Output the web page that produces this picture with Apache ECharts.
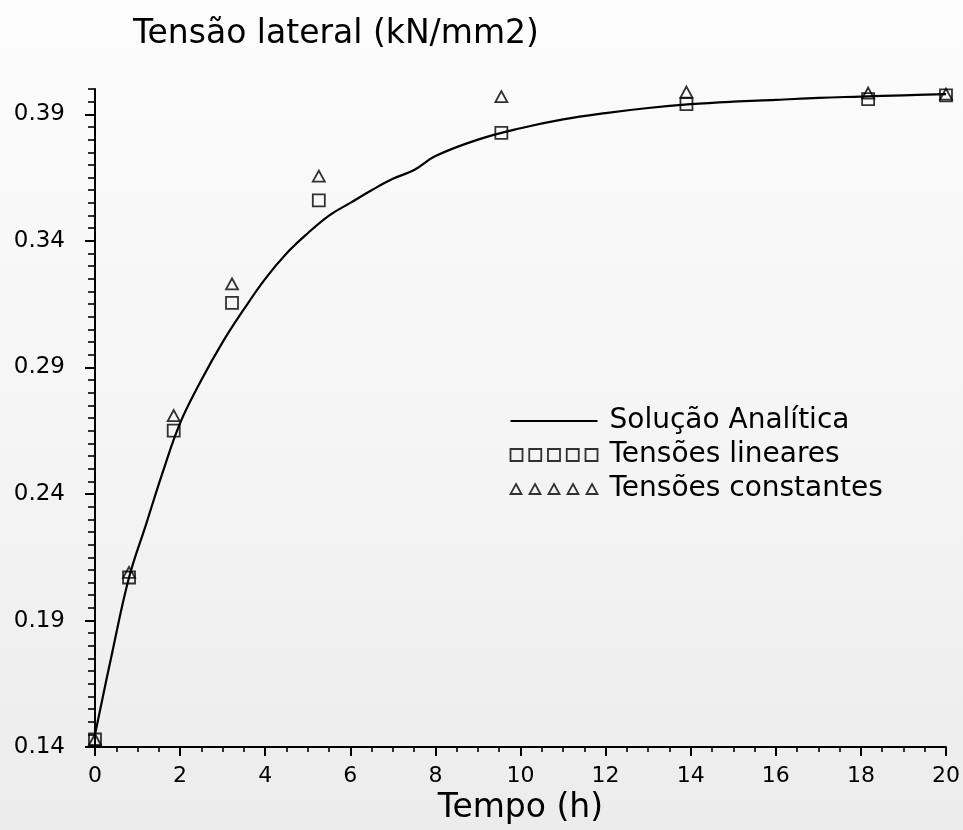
<!DOCTYPE html>
<html>
<head>
<meta charset="utf-8">
<title>Tensão lateral</title>
<script src="https://cdn.jsdelivr.net/npm/echarts@6/dist/echarts.min.js"></script>
<style>
  html, body { margin: 0; padding: 0; }
  body { width: 963px; height: 830px; background: linear-gradient(#fcfcfc 0%, #f6f6f6 45%, #ececec 100%); }
  #chart { width: 963px; height: 830px; }
</style>
</head>
<body>
<div id="chart"></div>
<script>
// Time axis (h) and lateral stress (kN/mm2)
const curveTime = [0, 0.4, 0.8, 1.2, 1.6, 2, 2.5, 3, 3.5, 4, 4.5, 5, 5.5, 6, 6.5, 7, 7.5, 8, 9, 10, 11, 12, 13, 14, 15, 16, 17, 18, 19, 20];
const curveStress = [0.145, 0.177, 0.207, 0.228, 0.249, 0.268, 0.285, 0.300, 0.313, 0.325, 0.335, 0.343, 0.350, 0.355, 0.360, 0.3645, 0.368, 0.3735, 0.380, 0.3845, 0.388, 0.3905, 0.3925, 0.394, 0.395, 0.3957, 0.3965, 0.397, 0.3975, 0.398];

const stepTime = [0, 0.8, 1.85, 3.22, 5.26, 9.55, 13.9, 18.17, 20];
const linearStress = [0.143, 0.207, 0.265, 0.3155, 0.356, 0.3827, 0.394, 0.396, 0.3975];
const constantStress = [0.143, 0.209, 0.271, 0.323, 0.3656, 0.397, 0.3988, 0.3984, 0.398];

const yMajorTicks = [0.14, 0.19, 0.24, 0.29, 0.34, 0.39];
const xTickStep = 2;

const seriesNames = ['Solução Analítica', 'Tensões lineares', 'Tensões constantes'];

// y minor ticks every 0.005 between 0.14 and 0.40
const yMinorTicks = [];
for (let k = 0; k <= 52; k++) yMinorTicks.push(+(0.14 + k * 0.005).toFixed(3));

const pairs = (xs, ys) => xs.map((x, i) => [x, ys[i]]);

// legend glyph paths: a bar, five squares, five triangles
let squaresPath = 'path://';
for (let i = 0; i < 5; i++) {
  const x0 = i * 18.75;
  squaresPath += `M${x0},0 L${x0 + 12},0 L${x0 + 12},12 L${x0},12 Z `;
}
let trianglesPath = 'path://';
for (let i = 0; i < 5; i++) {
  const x0 = i * 19;
  trianglesPath += `M${x0 + 5.5},0 L${x0 + 11},10 L${x0},10 Z `;
}
const barPath = 'path://M0,0 L87,0 L87,2 L0,2 Z';

const ink = '#000';
const tickFont = 'DejaVu Sans';

const chart = echarts.init(document.getElementById('chart'), null, { renderer: 'canvas' });

chart.setOption({
  backgroundColor: 'transparent',
  animation: false,
  title: {
    text: 'Tensão lateral (kN/mm2)',
    left: 128,
    top: 13,
    textStyle: { fontFamily: tickFont, fontSize: 33, fontWeight: 'normal', color: ink }
  },
  legend: {
    orient: 'vertical',
    left: 503,
    top: 402,
    itemGap: 6,
    itemWidth: 87,
    itemHeight: 13,
    selectedMode: false,
    textStyle: { fontFamily: tickFont, fontSize: 28, color: ink, lineHeight: 28, padding: [0, 0, 0, 7] },
    data: [
      { name: seriesNames[0], icon: barPath,
        itemStyle: { color: ink, borderWidth: 0 } },
      { name: seriesNames[1], icon: squaresPath,
        itemStyle: { color: 'none', borderColor: ink, borderWidth: 1.8 } },
      { name: seriesNames[2], icon: trianglesPath,
        itemStyle: { color: 'none', borderColor: ink, borderWidth: 1.8 } }
    ]
  },
  grid: { left: 95, right: 16, top: 89, bottom: 78 },
  xAxis: {
    type: 'value',
    min: 0,
    max: 20,
    interval: xTickStep,
    name: 'Tempo (h)',
    nameLocation: 'middle',
    nameGap: 36,
    nameTextStyle: { fontFamily: tickFont, fontSize: 33, color: ink },
    axisLine: { show: true, onZero: false, lineStyle: { color: ink, width: 2 } },
    axisTick: { show: true, length: 9, lineStyle: { color: ink, width: 2 } },
    minorTick: { show: true, splitNumber: 4, length: 5, lineStyle: { color: ink, width: 1.6 } },
    axisLabel: { margin: 18, fontFamily: tickFont, fontSize: 22, color: ink },
    splitLine: { show: false },
    minorSplitLine: { show: false }
  },
  yAxis: [
    {
      type: 'value',
      min: 0.14,
      max: 0.40,
      position: 'left',
      axisLine: { show: true, onZero: false, lineStyle: { color: ink, width: 2 } },
      axisTick: { show: true, length: 7, customValues: yMinorTicks, lineStyle: { color: ink, width: 1.6 } },
      axisLabel: { show: false },
      splitLine: { show: false }
    },
    {
      type: 'value',
      min: 0.14,
      max: 0.40,
      position: 'left',
      axisLine: { show: false },
      axisTick: { show: true, length: 10, customValues: yMajorTicks, lineStyle: { color: ink, width: 2 } },
      axisLabel: {
        show: true,
        customValues: yMajorTicks,
        margin: 30,
        fontFamily: tickFont,
        fontSize: 23,
        color: ink,
        formatter: v => v.toFixed(2)
      },
      splitLine: { show: false }
    }
  ],
  series: [
    {
      name: seriesNames[0],
      type: 'line',
      data: pairs(curveTime, curveStress),
      smooth: 0.4,
      showSymbol: false,
      lineStyle: { color: ink, width: 2.2 },
      itemStyle: { color: ink },
      z: 2
    },
    {
      name: seriesNames[1],
      type: 'scatter',
      data: pairs(stepTime, linearStress),
      symbol: 'rect',
      symbolSize: 12,
      itemStyle: { color: 'none', borderColor: ink, borderWidth: 1.8 },
      z: 3
    },
    {
      name: seriesNames[2],
      type: 'scatter',
      data: pairs(stepTime, constantStress),
      symbol: 'triangle',
      symbolSize: [12, 11],
      itemStyle: { color: 'none', borderColor: ink, borderWidth: 1.8 },
      z: 4
    }
  ]
});
</script>
</body>
</html>
